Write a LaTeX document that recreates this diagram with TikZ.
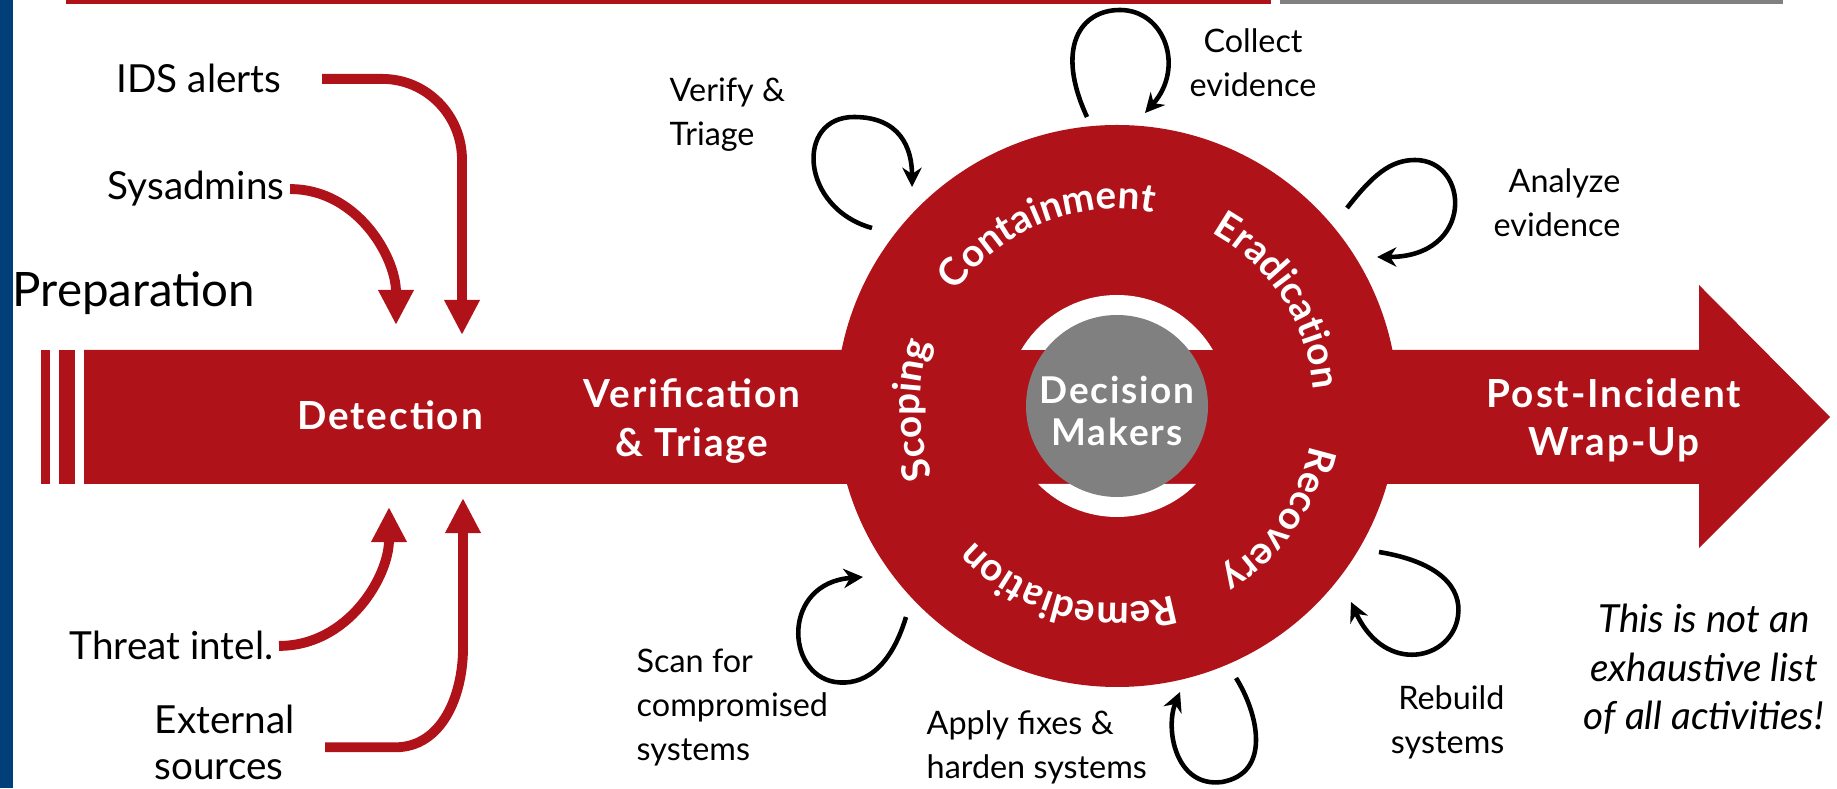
\documentclass[tikz,border=0pt]{standalone}
\usepackage{fontspec}
\setmainfont{Lato}
\newfontfamily\bandfont[LetterSpace=5]{Lato}
\usetikzlibrary{arrows.meta,decorations.text}

\definecolor{irred}{RGB}{176,18,26}
\definecolor{irgray}{RGB}{128,128,128}
\definecolor{irblue}{RGB}{0,63,122}

\begin{document}
\begin{tikzpicture}[
    x=0.01cm, y=0.01cm,
    src/.style={inner sep=0pt, font=\fontsize{11}{13.2}\selectfont},
    act/.style={inner sep=0pt, font=\fontsize{9.2}{12.6}\selectfont},
    phase/.style={inner sep=0pt, text=white, align=center,
                  font=\bandfont\bfseries\fontsize{11}{13.8}\selectfont},
    feed/.style={draw=irred, line width=2.8pt,
                 -{Triangle[length=10pt,width=9.5pt]}},
    cyc/.style={draw=black, line width=1.3pt,
                -{Stealth[length=5.5pt,width=5.5pt]}},
    arctext/.style={decorate, decoration={text along path, text align=center,
        text={|\bfseries\fontsize{11}{13}\selectfont\color{white}|#1}}}
  ]
  \useasboundingbox (0,0) rectangle (1837,788);

  % frame bits
  \fill[irblue] (0,0) rectangle (13,788);
  \fill[irred]  (66,784) rectangle (1271,788);
  \fill[irgray] (1280,784) rectangle (1783,788);

  % timeline arrow
  \fill[irred] (41,304) rectangle (50,438);
  \fill[irred] (59,304) rectangle (75,438);
  \fill[irred] (84,304) -- (84,438) -- (1699,438) -- (1699,503)
               -- (1830,371) -- (1699,240) -- (1699,304) -- cycle;

  % response wheel
  \coordinate (hub) at (1117,382);
  \fill[irred] (hub) circle[radius=281];
  \begin{scope}
    \clip (800,438) rectangle (1450,700) (800,304) rectangle (1450,50);
    \fill[white] (hub) circle[radius=111];
  \end{scope}
  \fill[irgray] (hub) circle[radius=91];

  \path[arctext=Scoping]     ([shift={(221:197)}]hub) arc[start angle=221, end angle=141, radius=197];
  \path[arctext=Containment] ([shift={(152:197)}]hub) arc[start angle=152, end angle=72, radius=197];
  \path[arctext=Eradication] ([shift={(73:197)}]hub)  arc[start angle=73, end angle=-7, radius=197];
  \path[arctext=Recovery]    ([shift={(5:197)}]hub)   arc[start angle=5, end angle=-75, radius=197];
  \path[arctext=Remediation] ([shift={(-65:197)}]hub) arc[start angle=-65, end angle=-145, radius=197];

  % phases on the band
  \node[phase, anchor=base]  (det)  at (390,358)  {Detection};
  \node[phase, anchor=north] (ver)  at (692,410)  {Verification\\\& Triage};
  \node[phase, anchor=north] (post) at (1614,410) {Post-Incident\\Wrap-Up};
  \node[phase, anchor=north, font=\bandfont\bfseries\fontsize{10.5}{12.2}\selectfont]
       (dm) at (1117,413) {Decision\\Makers};

  % sources feeding detection
  \node[anchor=base west, inner sep=0pt, font=\fontsize{13.5}{16}\selectfont]
       (prep) at (12,481) {Preparation};
  \node[src, anchor=base west] (ids)   at (116,695) {IDS alerts};
  \node[src, anchor=base west] (sys)   at (107,588) {Sysadmins};
  \node[src, anchor=base west] (intel) at (69,128)  {Threat intel.};
  \node[src, anchor=north west, align=left] (ext) at (154,84) {External\\sources};

  \coordinate (d1) at (462,453);
  \coordinate (d2) at (396,463);
  \coordinate (d3) at (389,281);
  \coordinate (d4) at (463,290);

  \draw[feed] ([xshift=4mm]ids.east) -- ++(60,0) to[out=0,in=90] ([yshift=17.5mm]d1) -- (d1);
  \draw[feed] ([xshift=0.5mm]sys.east) to[out=0,in=90] (d2);
  \draw[feed] ([xshift=0.5mm]intel.east) to[out=0,in=-90] (d3);
  \draw[feed] ([xshift=3mm,yshift=-0.5mm]ext.east) -- ++(70,0) to[out=0,in=-90] ([yshift=-15mm]d4) -- (d4);

  % activities around the wheel
  \node[act, anchor=north west, align=left]  (verify)  at (669,711)  {Verify \&\\Triage};
  \node[act, anchor=north, align=center]     (collect) at (1253,760) {Collect\\evidence};
  \node[act, anchor=north east, align=right] (analyze) at (1621,620) {Analyze\\evidence};
  \node[act, anchor=north east, align=right] (rebuild) at (1505,103) {Rebuild\\systems};
  \node[act, anchor=north west, align=left]  (apply)   at (926,78)   {Apply fixes \&\\harden systems};
  \node[act, anchor=north west, align=left]  (scan)    at (636,140)  {Scan for\\compromised\\systems};

  \draw[cyc] (872,560) .. controls (800,580) and (795,671) .. (854,671)
             .. controls (900,671) and (912,640) .. (912,601);
  \draw[cyc] (1087,671) .. controls (1055,740) and (1080,778) .. (1120,778)
             .. controls (1165,778) and (1185,720) .. (1145,675);
  \draw[cyc] (1347,580) .. controls (1372,612) and (1390,628) .. (1415,628)
             .. controls (1470,628) and (1475,531) .. (1377,531);
  \draw[cyc] (1379,236) .. controls (1440,226) and (1462,200) .. (1458,172)
             .. controls (1452,128) and (1385,112) .. (1351,186);
  \draw[cyc] (1236,110) .. controls (1258,75) and (1272,15) .. (1222,6)
             .. controls (1175,0) and (1165,60) .. (1180,96);
  \draw[cyc] (906,171) .. controls (890,118) and (862,102) .. (835,106)
             .. controls (785,114) and (782,205) .. (863,211);

  \node[inner sep=0pt, anchor=north, align=center,
        font=\itshape\fontsize{11}{13.9}\selectfont]
       (note) at (1704,185) {This is not an\\exhaustive list\\of all activities!};
\end{tikzpicture}
\end{document}
